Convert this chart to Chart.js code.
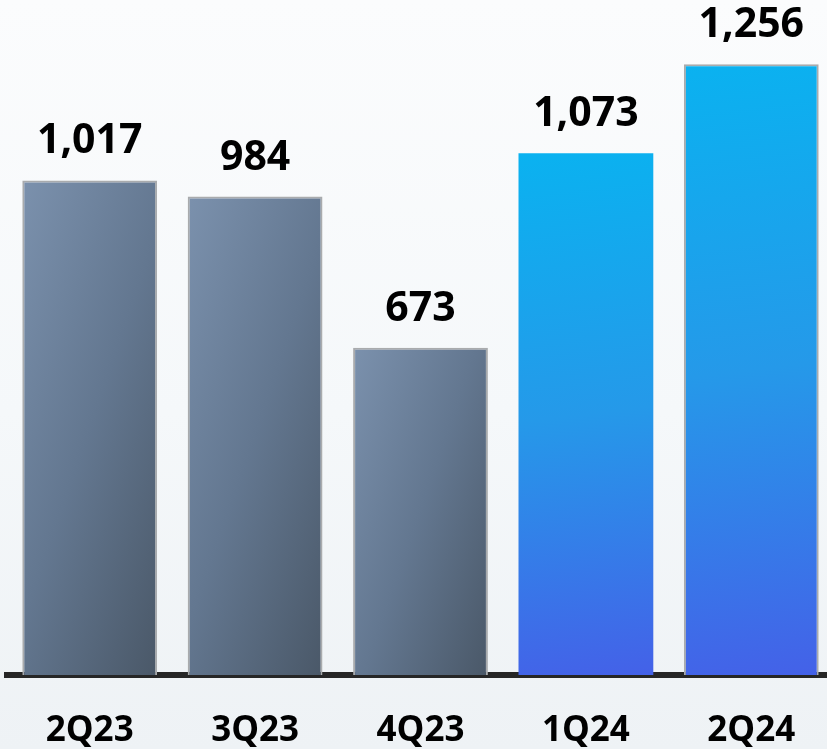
<!DOCTYPE html>
<html>
<head>
<meta charset="utf-8">
<script src="https://cdn.jsdelivr.net/npm/chart.js@4.4.0/dist/chart.umd.min.js"></script>
<style>
html,body{margin:0;padding:0;overflow:hidden}
body{width:827px;height:749px;background:linear-gradient(180deg,#fbfcfd 0%,#f5f8fa 55%,#eef2f5 100%)}
#wrap{position:absolute;left:0;top:0;width:834px;height:799px}
</style>
</head>
<body>
<div id="wrap"><canvas id="c" width="834" height="799"></canvas></div>
<script>
const quarters=["2Q23","3Q23","4Q23","1Q24","2Q24"]
const values=[1017,984,673,1073,1256]
const isCurrent=[false,false,false,true,true]

const FONT="'Open Sans', sans-serif"

function barFill(ctx){
const chart=ctx.chart
const xs=chart.scales.x,ys=chart.scales.y
if(!xs||!ys||!chart.chartArea)return "#6a7d95"
const i=ctx.dataIndex
const cx=xs.getPixelForValue(i)
const top=ys.getPixelForValue(values[i])
const base=ys.getPixelForValue(0)
const w=135,h=base-top
const x0=cx-w/2
const c=chart.ctx
let g,dx,dy
if(isCurrent[i]){
dx=0.12;dy=0.993
}else{
dx=0.945;dy=0.327
}
const L=w*dx+h*dy
g=c.createLinearGradient(x0,top,x0+L*dx,top+L*dy)
if(isCurrent[i]){
g.addColorStop(0,"#0ab2f0")
g.addColorStop(0.5,"#2599e9")
g.addColorStop(1,"#4461e8")
}else{
g.addColorStop(0,"#7b91ad")
g.addColorStop(0.5,"#637790")
g.addColorStop(1,"#4a5868")
}
return g
}

const valueLabels={
id:"valueLabels",
afterDatasetsDraw(chart){
const c=chart.ctx
const meta=chart.getDatasetMeta(0)
c.save()
c.font="bold 41px "+FONT
c.fillStyle="#000"
c.textAlign="center"
c.textBaseline="alphabetic"
meta.data.forEach((bar,i)=>{
c.fillText(values[i].toLocaleString("en-US"),bar.x,bar.y-27)
})
c.restore()
}
}

new Chart(document.getElementById("c"),{
type:"bar",
data:{
labels:quarters,
datasets:[{
data:values,
backgroundColor:barFill,
borderColor:quarters.map((q,i)=>i===3?"rgba(0,0,0,0)":"#a9abad"),
borderWidth:quarters.map((q,i)=>i===3?0:{top:2,left:2,right:2,bottom:0}),
borderSkipped:false,
barPercentage:0.815,
categoryPercentage:1
}]
},
options:{
responsive:false,
animation:false,
devicePixelRatio:1,
layout:{padding:{top:3,bottom:12,left:7,right:0}},
plugins:{legend:{display:false},tooltip:{enabled:false}},
scales:{
x:{
grid:{display:false,drawTicks:false},
border:{display:true,color:"#262626",width:6},
ticks:{color:"#000",font:{family:FONT,size:35,weight:"bold"},padding:35}
},
y:{
display:false,
min:0,
max:1382
}
}
},
plugins:[valueLabels]
})
</script>
</body>
</html>
